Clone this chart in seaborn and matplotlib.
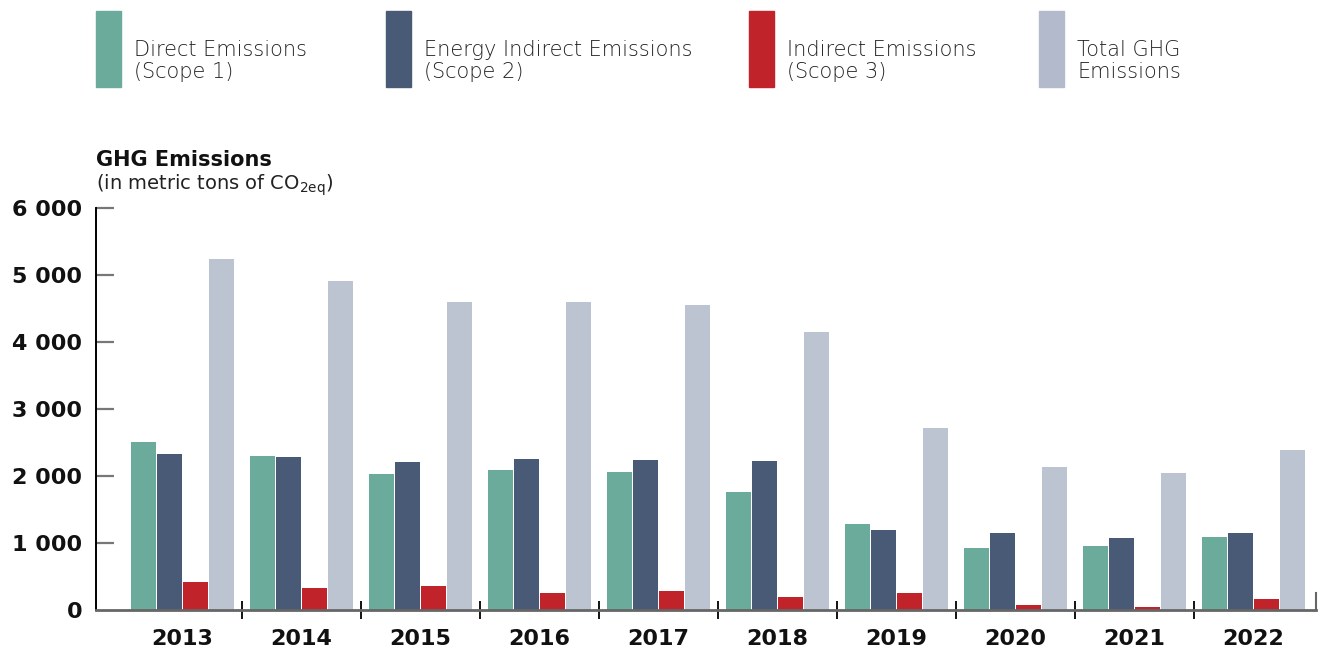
import pandas as pd
import matplotlib.pyplot as plt
import seaborn as sns
from matplotlib.patches import Rectangle

# values (metric tons CO2eq)
years = ['2013', '2014', '2015', '2016', '2017', '2018', '2019', '2020', '2021', '2022']
scope1 = [2505, 2295, 2030, 2090, 2060, 1760, 1280, 925, 955, 1090]
scope2 = [2325, 2285, 2210, 2255, 2240, 2225, 1190, 1150, 1075, 1150]
scope3 = [415, 325, 355, 255, 280, 195, 255, 75, 45, 165]
total = [5245, 4910, 4600, 4600, 4555, 4150, 2715, 2135, 2045, 2390]

series = ['Direct Emissions\n(Scope 1)', 'Energy Indirect Emissions\n(Scope 2)',
          'Indirect Emissions\n(Scope 3)', 'Total GHG\nEmissions']
colors = ['#6aab9c', '#485a75', '#c0232a', '#bdc4d1']
legend_colors = ['#6aab9c', '#485a75', '#c0232a', '#b3bacb']

df = pd.DataFrame({'year': years, series[0]: scope1, series[1]: scope2,
                   series[2]: scope3, series[3]: total})
long = df.melt(id_vars='year', var_name='series', value_name='value')

sns.set_style('white')
plt.rcParams['font.family'] = ['DejaVu Sans']
plt.rcParams['mathtext.default'] = 'regular'

fig = plt.figure(figsize=(13.22, 6.52), dpi=100)
ax = fig.add_axes([96 / 1322, 42 / 652, 1220 / 1322, 402 / 652])

sns.barplot(data=long, x='year', y='value', hue='series', hue_order=series,
            palette=colors, width=0.874, gap=0.06, saturation=1,
            linewidth=0, legend=False, ax=ax)

ax.set_xlim(-0.727, 9.525)
ax.set_ylim(0, 6000)
ax.set_xlabel('')
ax.set_ylabel('')

yt = [0, 1000, 2000, 3000, 4000, 5000, 6000]
ax.set_yticks(yt)
ax.set_yticklabels(['0' if v == 0 else f'{v // 1000} 000' for v in yt],
                   fontsize=16, fontweight='bold', color='#111111')
ax.tick_params(axis='y', left=True, direction='in', length=13, width=1.6,
               color='#777777', pad=10)
ax.yaxis.get_major_ticks()[-1].tick1line.set_color('black')
ax.yaxis.get_major_ticks()[0].tick1line.set_visible(False)

ax.set_xticks(range(len(years)))
ax.set_xticklabels(years, fontsize=16, fontweight='bold', color='#111111')
ax.tick_params(axis='x', which='major', bottom=False, length=0, pad=14)
ax.set_xticks([i + 0.5 for i in range(len(years) - 1)], minor=True)
ax.tick_params(axis='x', which='minor', bottom=True, direction='inout',
               length=13, width=1.3, color='black')

ax.spines['top'].set_visible(False)
ax.spines['left'].set_color('black')
ax.spines['left'].set_linewidth(1.4)
ax.spines['bottom'].set_color('#666666')
ax.spines['bottom'].set_linewidth(2)
ax.spines['right'].set_color('#666666')
ax.spines['right'].set_linewidth(1.5)
ax.spines['right'].set_bounds(0, 250)

# axis title
fig.text(96 / 1322, 1 - 160 / 652, 'GHG Emissions', fontsize=15, fontweight='bold',
         va='center', ha='left', color='#111111')
fig.text(96 / 1322, 1 - 185 / 652, '(in metric tons of CO$_{2eq}$)', fontsize=14,
         va='center', ha='left', color='#222222')

# legend across the top
leg_x = [96, 386, 749, 1039]
for x, c, lab in zip(leg_x, legend_colors, series):
    fig.patches.append(Rectangle((x / 1322, 1 - 87 / 652), 25 / 1322, 76 / 652,
                                 transform=fig.transFigure, color=c))
    fig.text((x + 38) / 1322, 1 - 61 / 652, lab, fontsize=15, fontweight='light',
             va='center', ha='left', color='#222222', linespacing=1.15)

fig.savefig('out.png', dpi=100)
